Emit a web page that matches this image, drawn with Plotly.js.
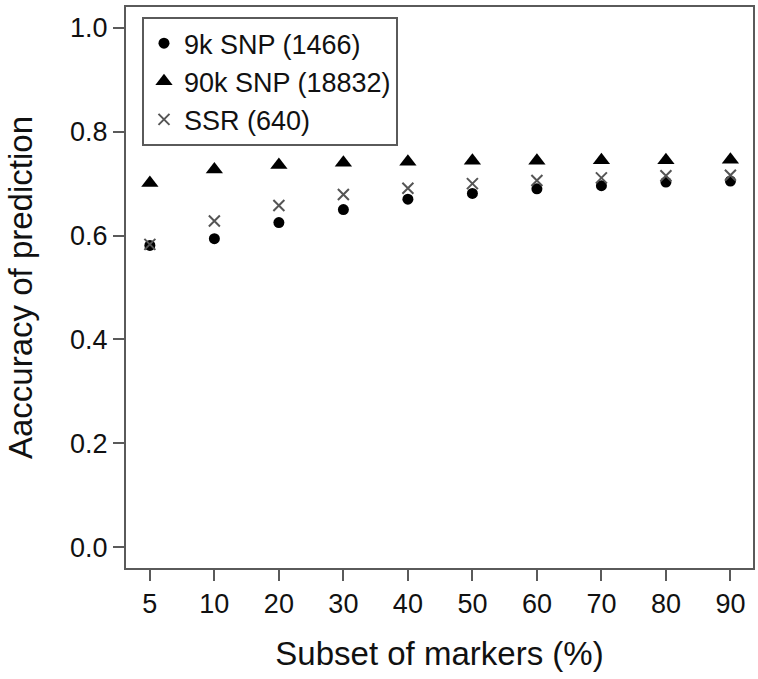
<!DOCTYPE html>
<html>
<head>
<meta charset="utf-8">
<script src="https://cdn.plot.ly/plotly-3.0.1.min.js"></script>
<style>
html,body{margin:0;padding:0;background:#fff;}
#chart{width:758px;height:679px;}
</style>
</head>
<body>
<div id="chart"></div>
<script>
// Data
var subsets = ['5', '10', '20', '30', '40', '50', '60', '70', '80', '90'];
var snp9k  = [0.581, 0.594, 0.625, 0.650, 0.670, 0.681, 0.690, 0.696, 0.703, 0.705];
var snp90k = [0.701, 0.727, 0.736, 0.740, 0.742, 0.744, 0.744, 0.745, 0.745, 0.746];
var ssr    = [0.583, 0.628, 0.658, 0.679, 0.691, 0.700, 0.706, 0.711, 0.715, 0.716];
var seriesNames = ['9k SNP (1466)', '90k SNP (18832)', 'SSR (640)'];
var yTicks = [0, 0.2, 0.4, 0.6, 0.8, 1.0];
var yTickText = ['0.0', '0.2', '0.4', '0.6', '0.8', '1.0'];

var FONT = 'Liberation Sans, Arial, Helvetica, sans-serif';
var LINE = '#5a5a5a';

var traces = [
  {x: subsets, y: snp9k, name: seriesNames[0], type: 'scatter', mode: 'markers',
   marker: {symbol: 'circle', size: 11, color: '#000'}},
  {x: subsets, y: snp90k, name: seriesNames[1], type: 'scatter', mode: 'markers',
   marker: {symbol: 'triangle-up', size: 15, color: '#000'}},
  {x: subsets, y: ssr, name: seriesNames[2], type: 'scatter', mode: 'markers',
   marker: {symbol: 'x-thin-open', size: 11, color: '#555', line: {color: '#555', width: 2}}}
];

var layout = {
  width: 758, height: 679,
  margin: {l: 126, r: 5, t: 7, b: 111},
  paper_bgcolor: '#fff', plot_bgcolor: '#fff',
  font: {family: FONT, color: '#111', size: 27},
  showlegend: true,
  legend: {
    x: 0.0255, y: 0.982, xanchor: 'left', yanchor: 'top',
    bordercolor: LINE, borderwidth: 2, bgcolor: '#fff',
    font: {family: FONT, size: 27, color: '#111'},
    tracegroupgap: 0, itemwidth: 30
  },
  xaxis: {
    type: 'category', range: [-0.37, 9.35],
    showgrid: false, zeroline: false,
    showline: true, linecolor: LINE, linewidth: 2, mirror: true,
    ticks: 'outside', ticklen: 11, tickwidth: 2, tickcolor: LINE,
    tickfont: {family: FONT, size: 27, color: '#111'},
    title: {text: 'Subset of markers (%)', font: {family: FONT, size: 33, color: '#111'}, standoff: 23},
    automargin: false
  },
  yaxis: {
    range: [-0.04, 1.04],
    tickmode: 'array', tickvals: yTicks, ticktext: yTickText,
    showgrid: false, zeroline: false,
    showline: true, linecolor: LINE, linewidth: 2, mirror: true,
    ticks: 'outside', ticklen: 11, tickwidth: 2, tickcolor: LINE,
    tickfont: {family: FONT, size: 27, color: '#111'},
    title: {text: 'Aaccuracy of prediction', font: {family: FONT, size: 33, color: '#111'}, standoff: 28},
    automargin: false
  }
};

Plotly.newPlot('chart', traces, layout, {displayModeBar: false, staticPlot: true});
</script>
</body>
</html>
